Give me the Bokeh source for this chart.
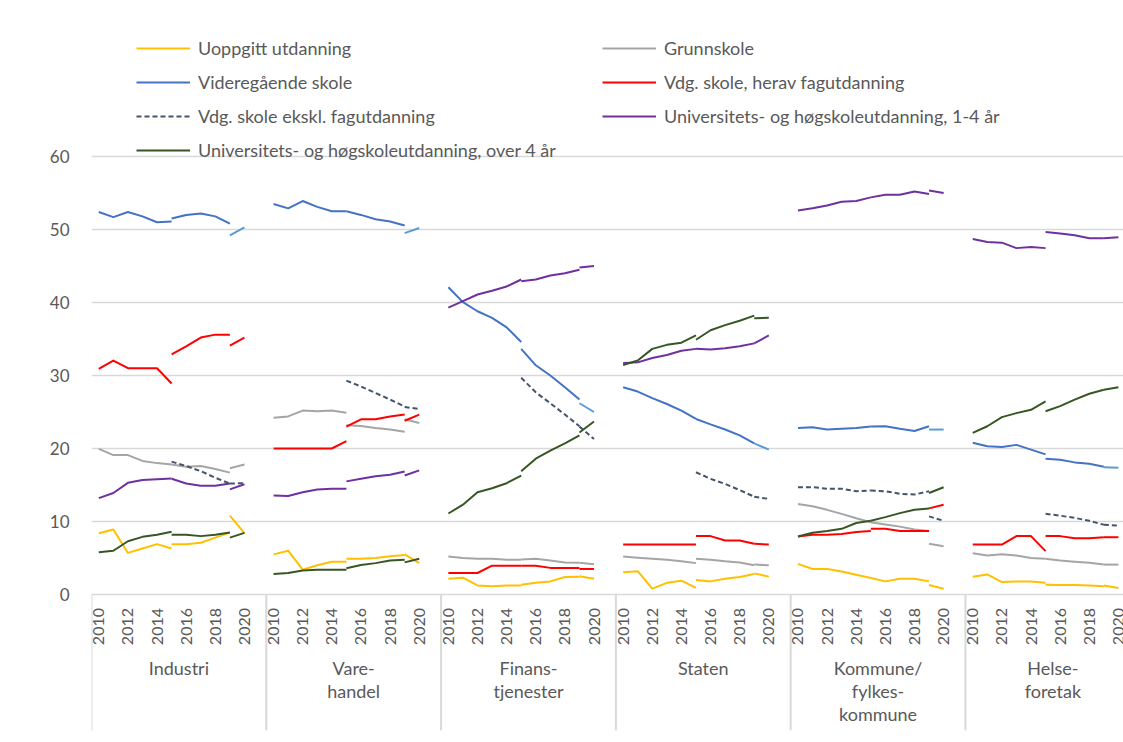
import math
from bokeh.plotting import figure
from bokeh.models import Range1d, FixedTicker, Legend, LegendItem
from bokeh.embed import file_html
from bokeh.resources import INLINE
from bokeh.core.properties import value

# ---------------- data ----------------
PANELS = ["Industri", "Vare-\nhandel", "Finans-\ntjenester", "Staten",
          "Kommune/\nfylkes-\nkommune", "Helse-\nforetak"]
YEARS_A = [2010, 2011, 2012, 2013, 2014, 2015]
YEARS_B = [2015, 2016, 2017, 2018, 2019]
YEARS_C = [2019, 2020]
TICK_YEARS = [2010, 2012, 2014, 2016, 2018, 2020]
Y_TICKS = [0, 10, 20, 30, 40, 50, 60]

# Uoppgitt utdanning
uoppgitt_a = [[8.4, 8.9, 5.7, 6.3, 6.9, 6.3], [5.5, 6.0, 3.4, 4.0, 4.5, 4.5],
              [2.15, 2.3, 1.25, 1.15, 1.25, 1.25], [3.05, 3.2, 0.8, 1.6, 1.9, 0.9],
              [4.2, 3.5, 3.5, 3.15, 2.7, 2.25], [2.45, 2.75, 1.7, 1.8, 1.8, 1.6]]
uoppgitt_b = [[6.9, 6.9, 7.1, 7.8, 8.5], [4.9, 4.9, 5.0, 5.25, 5.4],
              [1.35, 1.6, 1.8, 2.4, 2.45], [2.0, 1.8, 2.15, 2.4, 2.8],
              [2.25, 1.8, 2.15, 2.15, 1.8], [1.35, 1.3, 1.3, 1.25, 1.15]]
uoppgitt_c = [[10.8, 8.4], [5.5, 4.3], [2.5, 2.15], [2.9, 2.45], [1.3, 0.8], [1.25, 0.9]]

# Grunnskole
grunnskole_a = [[19.95, 19.1, 19.1, 18.3, 18.0, 17.8], [24.2, 24.4, 25.2, 25.1, 25.2, 24.9],
                [5.2, 5.0, 4.9, 4.9, 4.75, 4.75], [5.2, 5.05, 4.9, 4.75, 4.55, 4.3],
                [12.4, 12.1, 11.6, 11.05, 10.45, 9.9], [5.65, 5.35, 5.5, 5.35, 5.0, 4.9]]
grunnskole_b = [[17.8, 17.5, 17.6, 17.2, 16.7], [23.2, 23.1, 22.8, 22.6, 22.3],
                [4.8, 4.9, 4.65, 4.4, 4.35], [4.9, 4.75, 4.55, 4.4, 4.0],
                [9.9, 9.6, 9.3, 8.9, 8.7], [4.9, 4.65, 4.5, 4.35, 4.1]]
grunnskole_c = [[17.3, 17.8], [24.0, 23.5], [4.35, 4.15], [4.1, 4.0], [6.95, 6.6], [4.1, 4.1]]

# Videregående skole
vgs_a = [[52.4, 51.7, 52.4, 51.8, 51.0, 51.1], [53.5, 52.9, 53.9, 53.1, 52.5, 52.5],
         [42.1, 40.05, 38.8, 37.9, 36.6, 34.6], [28.4, 27.8, 26.9, 26.1, 25.2, 24.05],
         [22.8, 22.9, 22.6, 22.7, 22.8, 23.0], [20.8, 20.3, 20.2, 20.5, 19.85, 19.2]]
vgs_b = [[51.5, 52.0, 52.2, 51.8, 50.8], [52.5, 52.0, 51.4, 51.1, 50.55],
         [33.65, 31.4, 30.0, 28.4, 26.7], [24.05, 23.3, 22.6, 21.8, 20.7],
         [23.0, 23.05, 22.7, 22.4, 23.05], [18.6, 18.45, 18.1, 17.9, 17.5]]
vgs_c = [[49.2, 50.3], [49.5, 50.2], [26.2, 25.0], [20.7, 19.85], [22.6, 22.6], [17.45, 17.35]]

# Vdg. skole, herav fagutdanning
fag_a = [[30.9, 32.05, 31.0, 31.0, 31.0, 28.9], [20.0, 20.0, 20.0, 20.0, 20.0, 21.0],
         [2.95, 2.95, 2.95, 3.95, 3.95, 3.95], [6.85, 6.85, 6.85, 6.85, 6.85, 6.85],
         [7.95, 8.2, 8.2, 8.3, 8.55, 8.7], [6.85, 6.85, 6.85, 8.0, 8.0, 5.95]]
fag_b = [[32.9, 34.0, 35.2, 35.6, 35.6], [23.0, 24.0, 24.0, 24.4, 24.65],
         [3.95, 3.95, 3.65, 3.65, 3.65], [8.0, 8.0, 7.4, 7.4, 6.95],
         [9.0, 9.0, 8.7, 8.7, 8.7], [8.0, 8.0, 7.7, 7.7, 7.85]]
fag_c = [[34.1, 35.2], [23.8, 24.65], [3.5, 3.5], [6.95, 6.85], [11.8, 12.3], [7.85, 7.85]]

# Vdg. skole ekskl. fagutdanning
ekskl_a = [None, None, None, None, [14.7, 14.7, 14.5, 14.5, 14.15, 14.25], None]
ekskl_b = [[18.2, 17.6, 16.9, 16.0, 15.2], [29.3, 28.5, 27.6, 26.7, 25.75],
           [29.7, 27.7, 26.2, 24.65, 23.05], [16.75, 15.85, 15.15, 14.3, 13.4],
           [14.25, 14.15, 13.8, 13.7, 14.15], [11.05, 10.8, 10.5, 10.1, 9.55]]
ekskl_c = [[15.2, 15.25], [25.7, 25.4], [23.0, 21.3], [13.4, 13.1], [10.7, 10.1], [9.55, 9.45]]

# Universitets- og høgskoleutdanning, 1-4 år
uh14_a = [[13.2, 13.9, 15.3, 15.7, 15.8, 15.9], [13.55, 13.5, 14.0, 14.4, 14.5, 14.5],
          [39.3, 40.2, 41.1, 41.6, 42.2, 43.15], [31.7, 31.8, 32.4, 32.8, 33.4, 33.65],
          [52.6, 52.9, 53.3, 53.8, 53.9, 54.4], [48.7, 48.3, 48.2, 47.45, 47.6, 47.45]]
uh14_b = [[15.85, 15.2, 14.9, 14.9, 15.2], [15.5, 15.85, 16.2, 16.4, 16.85],
          [42.9, 43.15, 43.7, 44.0, 44.5], [33.65, 33.55, 33.75, 34.0, 34.4],
          [54.4, 54.75, 54.75, 55.2, 54.85], [49.65, 49.45, 49.2, 48.8, 48.8]]
uh14_c = [[14.4, 15.1], [16.3, 17.0], [44.8, 45.0], [34.4, 35.5], [55.35, 55.0], [48.8, 48.95]]

# Universitets- og høgskoleutdanning, over 4 år
uh4_a = [[5.8, 6.0, 7.3, 7.9, 8.2, 8.6], [2.8, 2.95, 3.3, 3.4, 3.4, 3.4],
         [11.1, 12.3, 14.0, 14.55, 15.25, 16.3], [31.45, 32.05, 33.65, 34.2, 34.5, 35.5],
         [7.95, 8.45, 8.7, 9.0, 9.8, 10.1], [22.15, 23.05, 24.3, 24.85, 25.3, 26.45]]
uh4_b = [[8.2, 8.2, 8.0, 8.2, 8.5], [3.6, 4.05, 4.3, 4.65, 4.75],
         [16.9, 18.6, 19.7, 20.7, 21.8], [34.9, 36.2, 36.9, 37.5, 38.2],
         [10.1, 10.6, 11.15, 11.6, 11.8], [25.1, 25.8, 26.7, 27.5, 28.05]]
uh4_c = [[7.8, 8.45], [4.4, 4.9], [22.2, 23.7], [37.85, 37.9], [13.9, 14.7], [28.05, 28.4]]

SERIES = [
    ("Uoppgitt utdanning", "#FFC000", "solid", uoppgitt_a, uoppgitt_b, uoppgitt_c, "#FFC000"),
    ("Grunnskole", "#A5A5A5", "solid", grunnskole_a, grunnskole_b, grunnskole_c, "#A5A5A5"),
    ("Videregående skole", "#4472C4", "solid", vgs_a, vgs_b, vgs_c, "#5B9BD5"),
    ("Vdg. skole, herav fagutdanning", "#FF0000", "solid", fag_a, fag_b, fag_c, "#FF0000"),
    ("Vdg. skole ekskl. fagutdanning", "#44546A", "5 3", ekskl_a, ekskl_b, ekskl_c, "#44546A"),
    ("Universitets- og høgskoleutdanning, 1-4 år", "#7030A0", "solid", uh14_a, uh14_b, uh14_c, "#7030A0"),
    ("Universitets- og høgskoleutdanning, over 4 år", "#375623", "solid", uh4_a, uh4_b, uh4_c, "#375623"),
]
LEFT_COL = ["Uoppgitt utdanning", "Videregående skole", "Vdg. skole ekskl. fagutdanning",
            "Universitets- og høgskoleutdanning, over 4 år"]
RIGHT_COL = ["Grunnskole", "Vdg. skole, herav fagutdanning",
             "Universitets- og høgskoleutdanning, 1-4 år"]

# ---------------- layout ----------------
SLOTS = 12  # category slots per panel
FONT = "Lato"
TXT = "#595959"
GRID = "#D9D9D9"


def xpos(panel, year):
    return panel * SLOTS + (year - 2010) + 0.5


p = figure(width=1123, height=742, output_backend="svg", toolbar_location=None,
           x_range=Range1d(0, 70.85), y_range=Range1d(-20.27, 81.37),
           x_axis_location=None, min_border_left=91, min_border_right=0,
           min_border_top=0, min_border_bottom=0)
p.outline_line_color = None
p.background_fill_color = "white"

p.yaxis.ticker = FixedTicker(ticks=Y_TICKS)
p.yaxis.axis_line_color = None
p.yaxis.major_tick_line_color = None
p.yaxis.minor_tick_line_color = None
p.yaxis.major_label_standoff = 16
p.yaxis.major_label_text_font = FONT
p.yaxis.major_label_text_font_size = "17px"
p.yaxis.major_label_text_color = TXT
p.ygrid.ticker = FixedTicker(ticks=Y_TICKS)
p.ygrid.grid_line_color = GRID
p.ygrid.grid_line_width = 1.5
p.xgrid.grid_line_color = None

# panel separators below the category axis
sep_x = [k * SLOTS for k in range(len(PANELS))]
p.segment(x0=sep_x, y0=[0] * len(sep_x), x1=sep_x, y1=[-18.6] * len(sep_x),
          line_color=GRID, line_width=2)

# year labels
yr_x = [xpos(k, y) for k in range(len(PANELS)) for y in TICK_YEARS]
yr_t = [str(y) for k in range(len(PANELS)) for y in TICK_YEARS]
p.text(x=yr_x, y=[-1.85] * len(yr_x), text=yr_t, angle=math.pi / 2,
       text_align="right", text_baseline="middle", text_font=value(FONT),
       text_font_size="16px", text_color=TXT)

# panel labels (multi-line)
pl_x, pl_y, pl_t = [], [], []
for k, lab in enumerate(PANELS):
    for i, line in enumerate(lab.split("\n")):
        pl_x.append(k * SLOTS + SLOTS / 2)
        pl_y.append(-10.0 - i * 3.2)
        pl_t.append(line)
p.text(x=pl_x, y=pl_y, text=pl_t, text_align="center", text_baseline="middle",
       text_font=value(FONT), text_font_size="18px", text_color=TXT)

# series
legend_r = {}
for label, color, dash, a, b, c, ccol in SERIES:
    for seg, years, col in ((a, YEARS_A, color), (b, YEARS_B, color), (c, YEARS_C, ccol)):
        xs, ys = [], []
        for k, vals in enumerate(seg):
            if vals is None:
                continue
            xs.append([xpos(k, y) for y in years])
            ys.append(vals)
        r = p.multi_line(xs=xs, ys=ys, line_color=col, line_width=2,
                         line_dash=dash, line_join="round")
        if seg is b:
            legend_r[label] = r


def make_legend(labels, loc):
    lg = Legend(items=[LegendItem(label=l, renderers=[legend_r[l]]) for l in labels],
                location=loc, padding=0, margin=0, spacing=10, glyph_width=54,
                glyph_height=24, label_height=24, label_standoff=8,
                label_text_font=FONT, label_text_font_size="18px",
                label_text_color=TXT, background_fill_alpha=0,
                border_line_color=None)
    return lg


p.add_layout(make_legend(LEFT_COL, (45, 580)))
p.add_layout(make_legend(RIGHT_COL, (511, 614)))

open("out.html", "w").write(file_html(p, INLINE))
